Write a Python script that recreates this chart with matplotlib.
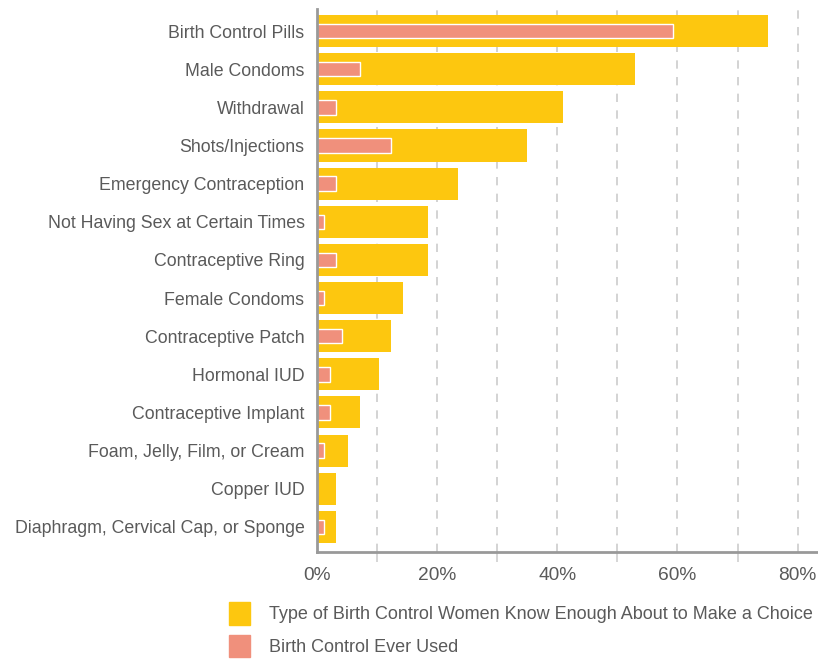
import matplotlib.pyplot as plt
from matplotlib.patches import Patch

methods = [
    "Birth Control Pills", "Male Condoms", "Withdrawal", "Shots/Injections",
    "Emergency Contraception", "Not Having Sex at Certain Times",
    "Contraceptive Ring", "Female Condoms", "Contraceptive Patch",
    "Hormonal IUD", "Contraceptive Implant", "Foam, Jelly, Film, or Cream",
    "Copper IUD", "Diaphragm, Cervical Cap, or Sponge",
]
know_enough = [75, 53, 41, 35, 23.5, 18.4, 18.4, 14.3, 12.3, 10.3, 7.2, 5.2, 3.1, 3.1]
ever_used = [59.3, 7.2, 3.1, 12.3, 3.1, 1.1, 3.1, 1.1, 4.1, 2.1, 2.1, 1.1, 0, 1.1]

yellow = "#FDC70F"
pink = "#F0907C"
text_col = "#5a5a5a"
fsize = 12.8

plt.rcParams['font.family'] = ['Liberation Sans', 'DejaVu Sans']

fig = plt.figure(figsize=(8.18, 6.62), dpi=100)
ax = fig.add_axes([317 / 818, 110 / 662, 501 / 818, 543 / 662])

y = list(range(len(methods)))
ax.barh(y, know_enough, height=0.84, color=yellow, zorder=2)
ax.barh(y, ever_used, height=0.38, color=pink, edgecolor="white",
        linewidth=1, zorder=3)

ax.set_xlim(0, 83.4)
ax.set_ylim(len(methods) - 1 + 0.66, -0.58)
ax.set_yticks(y)
ax.set_yticklabels(methods, fontsize=fsize, color=text_col)
ax.set_xticks([0, 20, 40, 60, 80])
ax.set_xticklabels(["0%", "20%", "40%", "60%", "80%"], fontsize=13.8, color=text_col)
ax.set_xticks([10, 30, 50, 70], minor=True)
ax.tick_params(axis="y", length=0, pad=9)
ax.tick_params(axis="x", which="major", length=0, pad=11)
ax.tick_params(axis="x", which="minor", length=7, color="#d0d0d0", width=1.2)

for gx in range(10, 90, 10):
    ax.axvline(gx, color="#cccccc", linestyle=(0, (5, 5)), linewidth=1.2, zorder=1)

for s in ["top", "right"]:
    ax.spines[s].set_visible(False)
for s in ["left", "bottom"]:
    ax.spines[s].set_color("#999999")
    ax.spines[s].set_linewidth(2)
    ax.spines[s].set_zorder(4)

handles = [Patch(color=yellow), Patch(color=pink)]
labels = ["Type of Birth Control Women Know Enough About to Make a Choice",
          "Birth Control Ever Used"]
fig.legend(handles, labels, loc="upper left", bbox_to_anchor=(229 / 818, 1 - 602 / 662),
           frameon=False, fontsize=13, labelcolor=text_col, handlelength=1.15,
           handleheight=1.55, handletextpad=1.05, labelspacing=0.55, borderaxespad=0,
           borderpad=0)

fig.savefig("out.png", dpi=100)
